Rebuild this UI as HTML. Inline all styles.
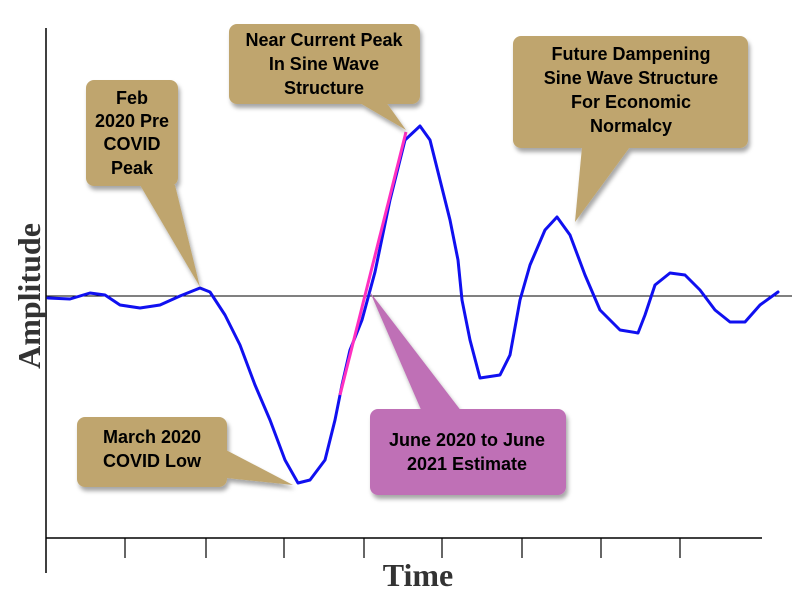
<!DOCTYPE html>
<html><head><style>
body{margin:0;background:#fff;}
</style></head><body>
<svg width="800" height="600" xmlns="http://www.w3.org/2000/svg">
<defs><filter id="sh" x="-10%" y="-10%" width="130%" height="130%"><feDropShadow dx="2" dy="4" stdDeviation="2" flood-color="#000" flood-opacity="0.35"/></filter></defs>
<line x1="46" y1="28" x2="46" y2="573" stroke="#000" stroke-width="1.5"/>
<line x1="46" y1="538" x2="762" y2="538" stroke="#000" stroke-width="1.5"/>
<line x1="46" y1="296" x2="792" y2="296" stroke="#000" stroke-width="1"/>
<g stroke="#000" stroke-width="1.2">
<line x1="125" y1="538" x2="125" y2="558"/><line x1="206" y1="538" x2="206" y2="558"/><line x1="284" y1="538" x2="284" y2="558"/><line x1="364" y1="538" x2="364" y2="558"/><line x1="442" y1="538" x2="442" y2="558"/><line x1="522" y1="538" x2="522" y2="558"/><line x1="601" y1="538" x2="601" y2="558"/><line x1="680" y1="538" x2="680" y2="558"/>
</g>
<text transform="translate(40,296) rotate(-90)" text-anchor="middle" font-family="Liberation Serif, serif" font-weight="bold" font-size="32" fill="#333">Amplitude</text>
<text x="418" y="586" text-anchor="middle" font-family="Liberation Serif, serif" font-weight="bold" font-size="32" fill="#333">Time</text>
<polyline fill="none" stroke="#1010f0" stroke-width="3" stroke-linejoin="round" stroke-linecap="round" points="48,298 70,299 90,293 105,295 120,305 140,308 160,305 180,296 200,288 210,292 225,315 240,345 255,385 270,420 285,460 298,483 310,480 325,460 335,420 342,385 350,350 362,320 375,272 390,200 405,140 420,126 430,140 440,180 450,220 458,260 462,300 470,340 480,378 500,375 510,355 520,300 530,265 545,230 557,217 570,235 585,275 600,310 620,330 638,333 645,315 655,285 670,273 685,275 700,290 715,310 730,322 745,322 760,305 778,292"/>
<line x1="340" y1="395" x2="406" y2="132" stroke="#ff30c0" stroke-width="3"/>
<g font-family="Liberation Sans, sans-serif" font-weight="bold" font-size="18" fill="#000" text-anchor="middle">
<g filter="url(#sh)" fill="#bfa56e">
<path d="M140,185 L175,185 L200,287 Z"/>
<rect x="86" y="80" width="92" height="106" rx="8"/>
<path d="M358,102 L386,102 L406,130 Z"/>
<rect x="229" y="24" width="191" height="80" rx="8"/>
<path d="M582,147 L630,147 L575,222 Z"/>
<rect x="513" y="36" width="235" height="112" rx="8"/>
<path d="M226,450 L226,478 L293,485 Z"/>
<rect x="77" y="417" width="150" height="70" rx="8"/>
</g>
<g filter="url(#sh)" fill="#bf70b6">
<path d="M422,412 L462,412 L370,292 Z"/>
<rect x="370" y="409" width="196" height="86" rx="8"/>
</g>
<text x="132" y="104">Feb</text><text x="132" y="127">2020 Pre</text><text x="132" y="150">COVID</text><text x="132" y="174">Peak</text>
<text x="324" y="46">Near Current Peak</text><text x="324" y="70">In Sine Wave</text><text x="324" y="94">Structure</text>
<text x="631" y="60">Future Dampening</text><text x="631" y="84">Sine Wave Structure</text><text x="631" y="108">For Economic</text><text x="631" y="132">Normalcy</text>
<text x="152" y="443">March 2020</text><text x="152" y="467">COVID Low</text>
<text x="467" y="446">June 2020 to June</text><text x="467" y="470">2021 Estimate</text>
</g>
</svg>
</body></html>
